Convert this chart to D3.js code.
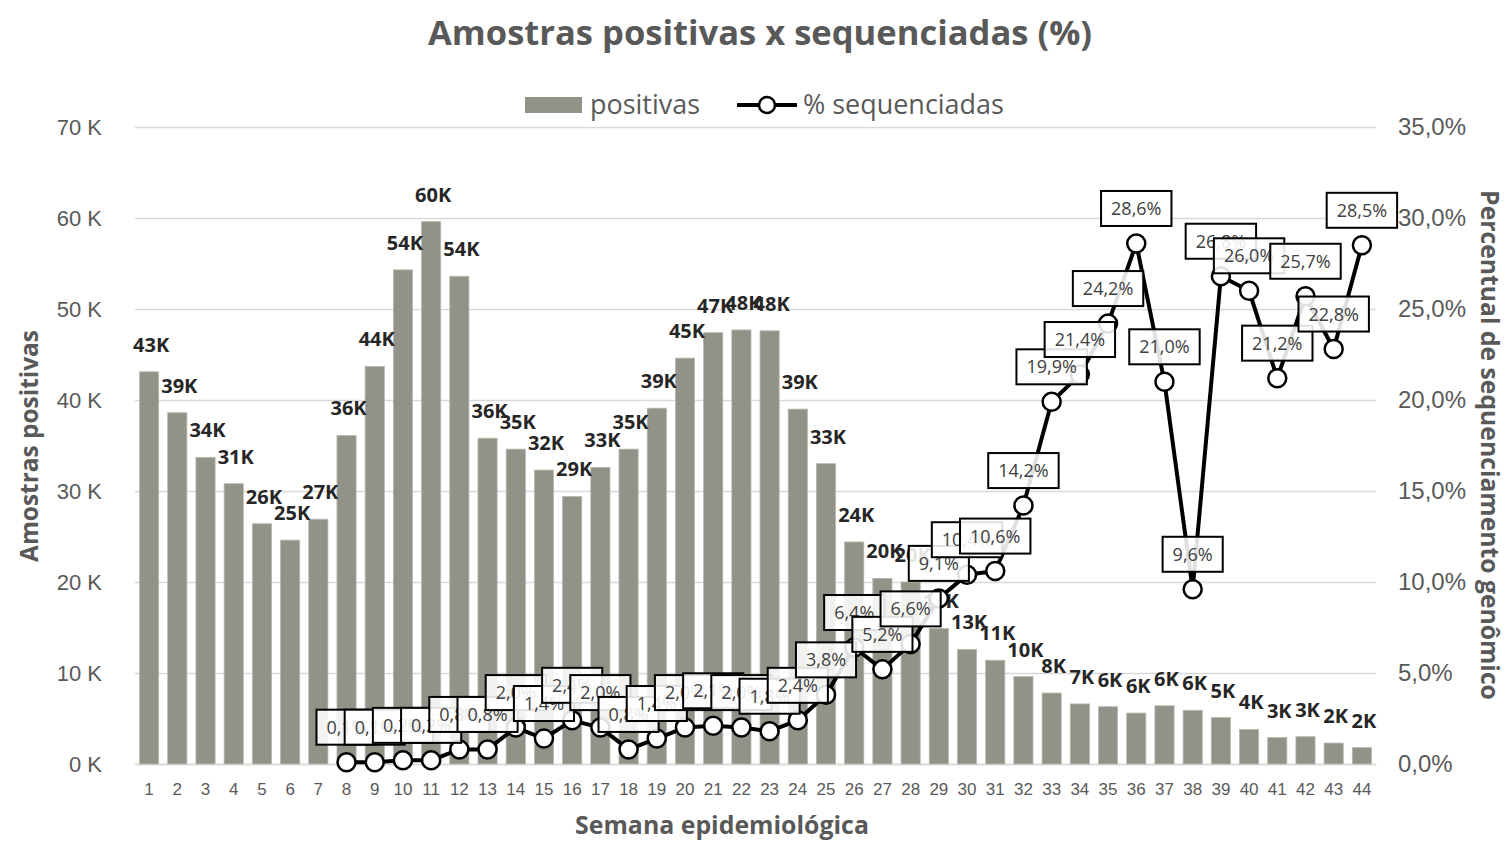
<!DOCTYPE html>
<html>
<head>
<meta charset="utf-8">
<script src="https://cdn.jsdelivr.net/npm/d3@7"></script>
<style>
  html, body { margin: 0; padding: 0; background: #fff; }
  svg { display: block; font-family: "Open Sans", Lato, sans-serif; }
</style>
</head>
<body>
<svg id="chart" width="1506" height="841"></svg>
<script>
// ---------- DATA ----------
const weeks = d3.range(1, 45);
// positive samples (thousands)
const positivas = [43.1, 38.6, 33.7, 30.8, 26.4, 24.6, 26.9, 36.1, 43.7, 54.3,
                   59.6, 53.6, 35.8, 34.6, 32.3, 29.4, 32.6, 34.6, 39.1, 44.6,
                   47.4, 47.7, 47.6, 39.0, 33.0, 24.4, 20.4, 20.0, 14.9, 12.6,
                   11.4, 9.6, 7.8, 6.6, 6.3, 5.6, 6.4, 5.9, 5.1, 3.8,
                   2.9, 3.0, 2.3, 1.8];
// % sequenced (null = no data)
const sequenciadas = [null, null, null, null, null, null, null, 0.1, 0.1, 0.2,
                      0.2, 0.8, 0.8, 2.0, 1.4, 2.4, 2.0, 0.8, 1.4, 2.0,
                      2.1, 2.0, 1.8, 2.4, 3.8, 6.4, 5.2, 6.6, 9.1, 10.4,
                      10.6, 14.2, 19.9, 21.4, 24.2, 28.6, 21.0, 9.6, 26.8, 26.0,
                      21.2, 25.7, 22.8, 28.5];
const leftTicks = [0, 10, 20, 30, 40, 50, 60, 70];
const rightTicks = [0, 5, 10, 15, 20, 25, 30, 35];

const title = "Amostras positivas x sequenciadas (%)";
const xTitle = "Semana epidemiológica";
const yLeftTitle = "Amostras positivas";
const yRightTitle = "Percentual de sequenciamento genômico";
const seriesNames = ["positivas", "% sequenciadas"];

// ---------- LAYOUT ----------
const svg = d3.select("#chart");
const L = 135, R = 1376, T = 127, B = 764;
const axisColor = "#595959";
const barColor = "#929288";

const x = d3.scaleBand().domain(weeks).range([L, R]).paddingInner(0.32).paddingOuter(0.16);
const yL = d3.scaleLinear().domain([0, 70]).range([B, T]);
const yR = d3.scaleLinear().domain([0, 35]).range([B, T]);

const fmtPct = v => v.toFixed(1).replace(".", ",") + "%";
function fit(sel, target) {
  const w = sel.node().getComputedTextLength();
  const fs = parseFloat(sel.style("font-size"));
  sel.style("font-size", (fs * target / w).toFixed(2) + "px");
  return sel;
}

// gridlines
svg.append("g")
  .attr("transform", `translate(${L},0)`)
  .call(d3.axisLeft(yL).tickValues(leftTicks).tickSize(-(R - L)).tickFormat(""))
  .call(g => g.select(".domain").remove())
  .call(g => g.selectAll("line").attr("stroke", "#d9d9d9").attr("stroke-width", 1.5));

// left axis labels
svg.append("g")
  .attr("transform", `translate(${L},0)`)
  .call(d3.axisLeft(yL).tickValues(leftTicks).tickSize(0).tickPadding(33).tickFormat(d => d + " K"))
  .call(g => g.select(".domain").remove())
  .call(g => g.selectAll("text").attr("fill", axisColor).style("font-size", "22px").style("font-family", null));

// right axis labels
svg.append("g")
  .attr("transform", `translate(${R},0)`)
  .call(d3.axisRight(yR).tickValues(rightTicks).tickSize(0).tickPadding(22).tickFormat(fmtPct))
  .call(g => g.select(".domain").remove())
  .call(g => g.selectAll("text").attr("fill", axisColor).style("font-size", "24px").style("font-family", null));

// x axis
svg.append("g")
  .attr("transform", `translate(0,${B})`)
  .call(d3.axisBottom(x).tickSize(0).tickPadding(19))
  .call(g => g.select(".domain").attr("stroke", "#d9d9d9").attr("stroke-width", 1.5))
  .call(g => g.selectAll("text").attr("fill", axisColor).style("font-size", "17px").style("font-family", null));

// bars
const barData = weeks.map((w, i) => ({ w, v: positivas[i] }));
svg.append("g").selectAll("rect").data(barData).join("rect")
  .attr("x", d => x(d.w)).attr("width", x.bandwidth())
  .attr("y", d => yL(d.v)).attr("height", d => B - yL(d.v))
  .attr("fill", barColor).attr("stroke", "#b8b8b0").attr("stroke-width", 0.8);

// bar labels
svg.append("g").selectAll("text").data(barData).join("text")
  .attr("x", d => x(d.w) + x.bandwidth() / 2 + 2)
  .attr("y", d => yL(d.v) - 20)
  .attr("text-anchor", "middle")
  .attr("fill", "#262626").style("font-size", "20px").style("font-weight", "bold")
  .text(d => Math.round(d.v) + "K");

// line
const lineData = weeks.map((w, i) => ({ w, v: sequenciadas[i] })).filter(d => d.v !== null);
const cx = d => x(d.w) + x.bandwidth() / 2;
svg.append("path").datum(lineData)
  .attr("d", d3.line().x(cx).y(d => yR(d.v)))
  .attr("fill", "none").attr("stroke", "#000").attr("stroke-width", 4).attr("stroke-linejoin", "round");
svg.append("g").selectAll("circle").data(lineData).join("circle")
  .attr("cx", cx).attr("cy", d => yR(d.v)).attr("r", 9)
  .attr("fill", "#fff").attr("stroke", "#000").attr("stroke-width", 2.5);

// line labels (boxed)
const lblG = svg.append("g");
lineData.forEach(d => {
  const g = lblG.append("g").attr("transform", `translate(${cx(d)},${yR(d.v) - 35})`);
  const rect = g.append("rect");
  const t = g.append("text").attr("text-anchor", "middle").attr("dy", "0.36em")
    .attr("fill", "#404040").style("font-size", "18px").text(fmtPct(d.v));
  const w = t.node().getComputedTextLength() + 20;
  const h = 35;
  rect.attr("x", -w / 2).attr("y", -h / 2).attr("width", w).attr("height", h)
    .attr("fill", "#fff").attr("fill-opacity", 0.88).attr("stroke", "#000").attr("stroke-width", 2);
});

// title
fit(svg.append("text").attr("x", 760).attr("y", 45).attr("text-anchor", "middle")
  .attr("fill", axisColor).style("font-size", "34px").style("font-weight", "bold").text(title), 664);

// legend
const lg = svg.append("g");
lg.append("rect").attr("x", 525).attr("y", 97).attr("width", 57).attr("height", 16).attr("fill", barColor);
const lt1 = fit(lg.append("text").attr("x", 590).attr("y", 114).attr("fill", axisColor).style("font-size", "27px").text(seriesNames[0]), 110);
lg.append("line").attr("x1", 737).attr("x2", 797).attr("y1", 105).attr("y2", 105).attr("stroke", "#000").attr("stroke-width", 4);
lg.append("circle").attr("cx", 767).attr("cy", 105).attr("r", 8).attr("fill", "#fff").attr("stroke", "#000").attr("stroke-width", 2.5);
lg.append("text").attr("x", 803).attr("y", 114).attr("fill", axisColor).style("font-size", lt1.style("font-size")).text(seriesNames[1]);

// axis titles
fit(svg.append("text").attr("transform", "translate(38,446) rotate(-90)").attr("text-anchor", "middle")
  .attr("fill", axisColor).style("font-size", "23px").style("font-weight", "bold").text(yLeftTitle), 232);
fit(svg.append("text").attr("x", 722).attr("y", 834).attr("text-anchor", "middle")
  .attr("fill", axisColor).style("font-size", "23px").style("font-weight", "bold").text(xTitle), 294);
fit(svg.append("text").attr("transform", "translate(1481,445) rotate(90)").attr("text-anchor", "middle")
  .attr("fill", axisColor).style("font-size", "24px").style("font-weight", "bold").text(yRightTitle), 510);
</script>
</body>
</html>
